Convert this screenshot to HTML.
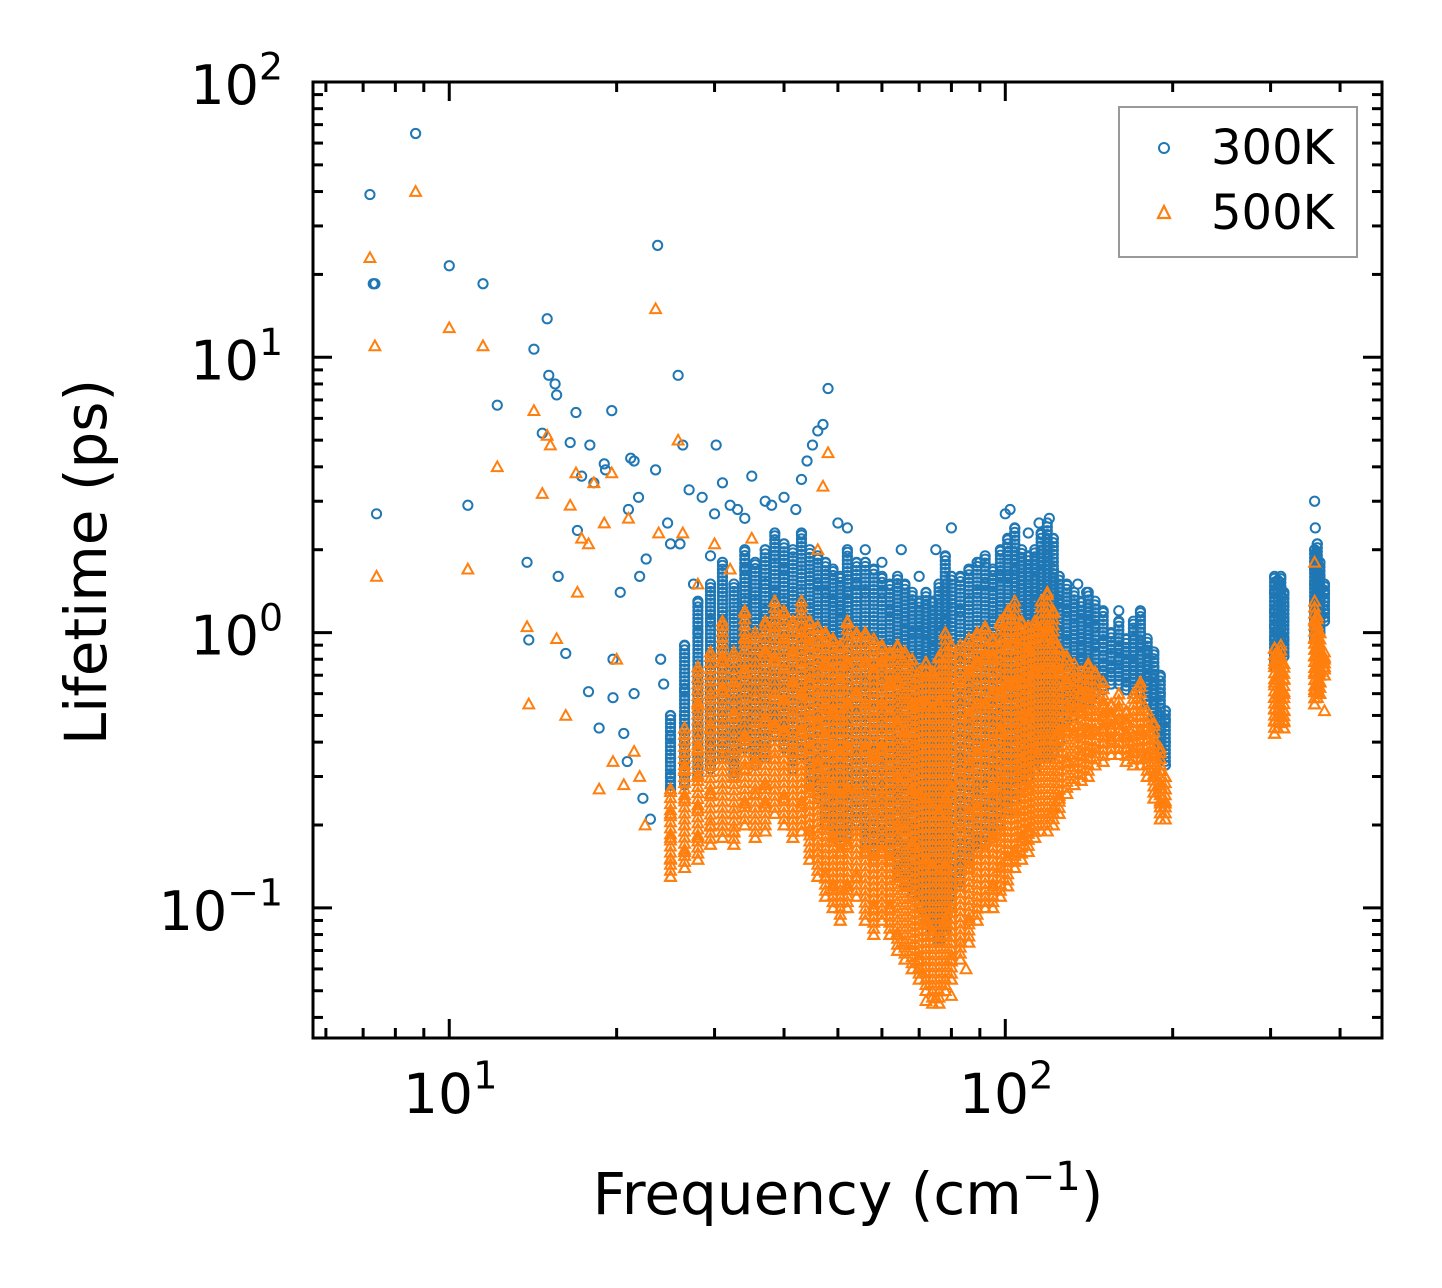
<!DOCTYPE html>
<html><head><meta charset="utf-8"><style>
html,body{margin:0;padding:0;background:#fff;}
svg{display:block;font-family:"DejaVu Sans","Liberation Sans",sans-serif;}
</style></head><body>
<svg id="chart" width="1442" height="1288" viewBox="0 0 1442 1288" xmlns="http://www.w3.org/2000/svg">
<rect width="1442" height="1288" fill="#fff"/>
<defs><clipPath id="clip"><rect x="313" y="82" width="1069" height="956"/></clipPath></defs>
<g id="marks" clip-path="url(#clip)"></g>
<g id="axes"></g>
</svg>
<script>
// isolated points (frequency cm^-1, lifetime ps)
const iso300 = [[7.2,39],[7.3,18.5],[7.35,18.5],[7.4,2.7],[8.7,65],[10,21.5],[10.8,2.9],[11.5,18.5],[12.2,6.7],[13.8,1.8],[13.9,0.94],[14.2,10.7],[14.7,5.3],[15,13.8],[15.1,8.6],[15.5,8],[15.6,7.3],[15.7,1.6],[16.2,0.84],[16.5,4.9],[16.9,6.3],[17,2.35],[17.3,3.7],[17.8,0.61],[17.9,4.8],[18.2,3.5],[18.6,0.45],[19,4.1],[19.1,3.9],[19.6,6.4],[19.7,0.8],[19.7,0.58],[20.3,1.4],[20.6,0.43],[20.9,0.34],[21,2.8],[21.2,4.3],[21.5,4.2],[21.5,0.6],[21.9,3.1],[22,1.6],[22.3,0.25],[22.6,1.85],[23,0.21],[23.5,3.9],[23.7,25.5],[24,0.8],[24.3,0.65],[24.7,2.5],[25,2.1],[25.8,8.6],[26,2.1],[26.3,4.8],[27,3.3],[27.5,1.5],[28.5,3.1],[29.5,1.9],[30,2.7],[30.2,4.8],[31,3.5],[32,2.9],[33,2.8],[34,2.6],[35,3.7],[37,3],[38,2.9],[40,3.1],[42,2.8],[43,3.6],[44,4.2],[45,4.8],[46,5.4],[47,5.7],[48,7.7],[50,2.5],[52,2.4],[56,2],[60,1.8],[65,2],[70,1.6],[75,2],[80,2.4],[90,1.8],[100,2.7],[102,2.8],[110,2.3],[115,2.5],[120,2.6],[135,1.5],[140,1.4],[160,1.2],[360,3.0],[361,2.4]];
const iso500 = [[7.2,23],[7.35,11],[7.4,1.6],[8.7,40],[10,12.8],[10.8,1.7],[11.5,11],[12.2,4],[13.8,1.05],[13.9,0.55],[14.2,6.4],[14.7,3.2],[15,5.2],[15.2,4.8],[15.6,0.95],[16.2,0.5],[16.5,2.9],[16.9,3.8],[17,1.4],[17.3,2.2],[17.8,2.1],[18.2,3.5],[18.6,0.27],[19,2.5],[19.6,3.8],[19.7,0.34],[20,0.8],[20.6,0.28],[21,2.6],[21.5,0.37],[22,0.3],[22.5,0.2],[23.5,15],[23.8,2.3],[25.8,5],[26.3,2.3],[28,1.5],[30,2.1],[32,1.7],[35,2.2],[46,2],[48,4.5],[47,3.4],[70,0.06],[75,0.047],[80,0.048],[85,0.06],[72,0.046],[360,1.8],[375,0.52]];
// dense clouds: [frequency, [lifetimes]] — cloud spans min..max of each bin
const cloud300 = [[25,[0.3,0.35,0.42,0.5,0.27]],[26.5,[0.33,0.4,0.5,0.62,0.9,0.28]],[28,[0.35,0.45,0.55,0.7,1.0,1.3,0.3]],[29.5,[0.38,0.5,0.6,0.8,1.1,1.5,0.32]],[31,[0.4,0.5,0.65,0.85,1.1,1.4,0.35,1.8]],[32.5,[0.42,0.55,0.7,0.9,1.2,1.5,0.36,0.3]],[34,[0.45,0.6,0.75,1.0,1.3,1.7,0.38,2.0]],[35.5,[0.5,0.62,0.8,1.05,1.4,1.8,0.4,0.33]],[37,[0.55,0.7,0.9,1.2,1.5,2.0,0.45,0.35]],[38.5,[0.5,0.65,0.85,1.1,1.4,1.9,0.42,2.3]],[40,[0.45,0.6,0.8,1.0,1.3,1.7,2.1,0.38]],[41.5,[0.5,0.7,0.9,1.2,1.5,2.0,0.4,0.32]],[43,[0.45,0.6,0.8,1.1,1.4,1.8,2.3,0.36]],[44.5,[0.35,0.5,0.7,0.9,1.2,1.6,0.28,2.0]],[46,[0.3,0.45,0.6,0.85,1.1,1.5,0.25,1.9]],[47.5,[0.25,0.38,0.55,0.75,1.0,1.4,0.2,1.8]],[49,[0.22,0.33,0.5,0.7,0.95,1.3,0.18,1.7]],[50.5,[0.2,0.3,0.45,0.65,0.9,1.2,0.17,1.6]],[52,[0.22,0.32,0.5,0.7,1.0,1.4,0.18,2.0]],[54,[0.25,0.35,0.5,0.75,1.1,1.5,0.2,1.8]],[56,[0.2,0.3,0.45,0.7,1.0,1.4,0.16,1.8]],[58,[0.18,0.28,0.42,0.65,0.95,1.3,0.15,1.7]],[60,[0.2,0.3,0.45,0.7,1.0,1.4,0.17,1.6]],[62,[0.18,0.28,0.4,0.6,0.9,1.2,0.15,1.5]],[64,[0.15,0.25,0.38,0.55,0.85,1.2,0.13,1.6]],[66,[0.14,0.22,0.35,0.55,0.8,1.1,0.12,1.5]],[68,[0.13,0.2,0.32,0.5,0.75,1.0,0.11,1.4]],[70,[0.12,0.18,0.3,0.48,0.7,1.0,0.1,1.3]],[72,[0.1,0.17,0.28,0.45,0.7,1.0,0.09,1.4]],[74,[0.09,0.15,0.25,0.42,0.65,0.95,0.08,1.3]],[76,[0.09,0.14,0.24,0.4,0.65,1.0,0.075,1.5]],[78,[0.1,0.16,0.26,0.45,0.7,1.1,0.08,1.9]],[80,[0.12,0.18,0.3,0.5,0.8,1.2,0.1,1.6]],[83,[0.14,0.22,0.35,0.55,0.85,1.2,0.12,1.6]],[86,[0.16,0.25,0.4,0.6,0.9,1.3,0.14,1.7]],[89,[0.18,0.28,0.42,0.65,1.0,1.4,0.16,1.8]],[92,[0.2,0.3,0.45,0.7,1.0,1.5,0.17,1.9]],[95,[0.22,0.33,0.5,0.75,1.1,1.5,0.18,1.7]],[98,[0.25,0.35,0.55,0.8,1.1,1.6,0.2,2.0]],[101,[0.28,0.4,0.6,0.85,1.2,1.6,0.22,2.2]],[104,[0.3,0.42,0.6,0.85,1.2,1.7,0.25,2.4]],[107,[0.32,0.45,0.62,0.9,1.2,1.6,0.28,2.0]],[110,[0.35,0.5,0.65,0.9,1.2,1.6,0.3,1.9]],[113,[0.38,0.5,0.7,0.95,1.3,1.7,0.32,2.0]],[116,[0.4,0.55,0.75,1.0,1.3,1.8,0.35,2.3]],[119,[0.4,0.55,0.75,1.0,1.4,1.9,0.35,2.5]],[122,[0.42,0.55,0.75,1.0,1.3,1.7,0.36,2.2]],[125,[0.45,0.6,0.8,1.0,1.3,1.6,0.4]],[129,[0.48,0.62,0.8,1.0,1.2,1.5]],[133,[0.5,0.62,0.78,0.95,1.15,1.4]],[137,[0.52,0.65,0.8,0.95,1.1,1.3]],[141,[0.55,0.68,0.8,0.95,1.1,1.4]],[145,[0.6,0.7,0.8,0.9,1.05,1.3]],[150,[0.62,0.72,0.82,0.92,1.0,1.2]],[155,[0.65,0.75,0.82,0.9,1.0]],[160,[0.65,0.72,0.8,0.88,0.95,1.1]],[165,[0.62,0.7,0.78,0.85,0.95]],[170,[0.6,0.68,0.76,0.85,0.95,1.1]],[175,[0.6,0.7,0.8,0.9,1.0,1.2]],[180,[0.55,0.65,0.75,0.85,0.95]],[185,[0.45,0.55,0.65,0.75,0.85]],[190,[0.35,0.42,0.5,0.6,0.7]],[194,[0.33,0.4,0.48,0.52]],[305,[0.75,0.85,0.95,1.05,1.2,1.4,1.6]],[309,[0.8,0.9,1.0,1.1,1.25,1.4,1.55]],[313,[0.85,0.95,1.05,1.15,1.3,1.45,1.6]],[317,[0.82,0.95,1.1,1.25,1.4]],[360,[0.95,1.1,1.3,1.5,1.7,2.0]],[364,[1.0,1.2,1.4,1.6,1.8,2.1]],[368,[1.0,1.15,1.3,1.45,1.6,1.8]],[375,[1.1,1.2,1.3,1.4,1.5]]];
const cloud500 = [[25,[0.15,0.18,0.22,0.27,0.13]],[26.5,[0.16,0.2,0.25,0.32,0.45,0.14]],[28,[0.18,0.23,0.3,0.38,0.55,0.75,0.15]],[29.5,[0.2,0.26,0.33,0.45,0.6,0.85,0.17]],[31,[0.2,0.27,0.35,0.47,0.62,0.8,0.18,1.1]],[32.5,[0.22,0.3,0.38,0.5,0.66,0.85,0.19,0.17]],[34,[0.24,0.32,0.42,0.55,0.72,0.95,0.2,1.2]],[35.5,[0.26,0.34,0.45,0.58,0.78,1.0,0.21,0.18]],[37,[0.28,0.37,0.48,0.64,0.85,1.1,0.24,0.19]],[38.5,[0.27,0.35,0.46,0.6,0.8,1.05,0.22,1.3]],[40,[0.25,0.33,0.44,0.57,0.74,0.95,1.2,0.2]],[41.5,[0.27,0.37,0.5,0.66,0.85,1.1,0.22,0.18]],[43,[0.24,0.33,0.44,0.6,0.78,1.0,1.3,0.19]],[44.5,[0.19,0.27,0.38,0.5,0.66,0.9,0.15,1.1]],[46,[0.16,0.24,0.33,0.47,0.62,0.85,0.13,1.05]],[47.5,[0.13,0.2,0.3,0.42,0.55,0.78,0.11,1.0]],[49,[0.12,0.18,0.27,0.38,0.52,0.72,0.1,0.95]],[50.5,[0.11,0.16,0.25,0.36,0.5,0.66,0.09,0.9]],[52,[0.12,0.17,0.27,0.38,0.55,0.78,0.1,1.1]],[54,[0.13,0.19,0.27,0.41,0.6,0.83,0.11,1.0]],[56,[0.11,0.16,0.25,0.38,0.55,0.78,0.09,1.0]],[58,[0.1,0.15,0.23,0.36,0.52,0.72,0.08,0.95]],[60,[0.11,0.16,0.25,0.38,0.55,0.78,0.09,0.9]],[62,[0.1,0.15,0.22,0.33,0.5,0.66,0.08,0.85]],[64,[0.08,0.13,0.2,0.3,0.47,0.66,0.07,0.9]],[66,[0.075,0.12,0.19,0.3,0.44,0.6,0.065,0.85]],[68,[0.07,0.11,0.17,0.27,0.41,0.55,0.06,0.8]],[70,[0.065,0.1,0.16,0.26,0.38,0.55,0.055,0.72]],[72,[0.055,0.09,0.15,0.25,0.38,0.55,0.05,0.78]],[74,[0.05,0.08,0.14,0.23,0.36,0.52,0.045,0.72]],[76,[0.05,0.075,0.13,0.22,0.36,0.55,0.045,0.82]],[78,[0.055,0.09,0.14,0.25,0.38,0.6,0.05,1.0]],[80,[0.065,0.1,0.16,0.27,0.44,0.66,0.055,0.9]],[83,[0.075,0.12,0.19,0.3,0.47,0.66,0.065,0.9]],[86,[0.09,0.14,0.22,0.33,0.5,0.72,0.075,0.95]],[89,[0.1,0.15,0.23,0.36,0.55,0.78,0.09,1.0]],[92,[0.11,0.16,0.25,0.38,0.55,0.82,0.1,1.05]],[95,[0.12,0.18,0.27,0.41,0.6,0.82,0.1,0.95]],[98,[0.14,0.19,0.3,0.44,0.6,0.88,0.11,1.1]],[101,[0.15,0.22,0.33,0.47,0.66,0.88,0.12,1.2]],[104,[0.16,0.23,0.33,0.47,0.66,0.95,0.14,1.3]],[107,[0.18,0.25,0.34,0.5,0.66,0.88,0.15,1.1]],[110,[0.19,0.27,0.36,0.5,0.66,0.88,0.16,1.05]],[113,[0.21,0.27,0.38,0.52,0.72,0.95,0.18,1.1]],[116,[0.22,0.3,0.41,0.55,0.72,1.0,0.19,1.3]],[119,[0.22,0.3,0.41,0.55,0.78,1.05,0.19,1.4]],[122,[0.23,0.3,0.41,0.55,0.72,0.95,0.2,1.2]],[125,[0.25,0.33,0.44,0.55,0.72,0.88,0.22]],[129,[0.26,0.34,0.44,0.55,0.66,0.82]],[133,[0.28,0.34,0.43,0.52,0.63,0.77]],[137,[0.29,0.36,0.44,0.52,0.6,0.72]],[141,[0.3,0.37,0.44,0.52,0.6,0.77]],[145,[0.33,0.38,0.44,0.5,0.58,0.72]],[150,[0.34,0.4,0.45,0.5,0.55,0.66]],[155,[0.36,0.41,0.45,0.5,0.55]],[160,[0.36,0.4,0.44,0.48,0.52,0.6]],[165,[0.34,0.38,0.43,0.47,0.52]],[170,[0.33,0.37,0.42,0.47,0.52,0.6]],[175,[0.33,0.38,0.44,0.5,0.55,0.66]],[180,[0.3,0.36,0.41,0.47,0.52]],[185,[0.25,0.3,0.36,0.41,0.47]],[190,[0.21,0.24,0.28,0.33,0.38]],[194,[0.21,0.24,0.27,0.3]],[305,[0.43,0.48,0.53,0.58,0.66,0.77,0.88]],[309,[0.45,0.5,0.55,0.6,0.7,0.77,0.85]],[313,[0.47,0.52,0.58,0.63,0.72,0.8,0.9]],[317,[0.45,0.52,0.6,0.68,0.77,0.48]],[360,[0.55,0.62,0.72,0.82,0.95,1.1,1.3]],[364,[0.58,0.66,0.77,0.88,1.0,1.15]],[368,[0.6,0.66,0.72,0.8,0.9,1.0]],[375,[0.7,0.75,0.8,0.85]]];
const xTickExps = [1, 2];
const yTickExps = [-1, 0, 1, 2];

const NS = "http://www.w3.org/2000/svg";
const L = 313, R = 1382, T = 82, B = 1038;
const xMinLog = 1 - 136/555, xMaxLog = 2 + 376/555;
const yMinLog = -1 - 130/275, yMaxLog = 2;
function xs(v){ return L + (Math.log10(v) - xMinLog) / (xMaxLog - xMinLog) * (R - L); }
function ys(v){ return B - (Math.log10(v) - yMinLog) / (yMaxLog - yMinLog) * (B - T); }
function mk(tag, attrs, parent){ const e = document.createElementNS(NS, tag); for (const k in attrs) e.setAttribute(k, attrs[k]); parent.appendChild(e); return e; }
const marks = document.getElementById('marks');
const axes = document.getElementById('axes');
const C1 = "#1f77b4", C2 = "#ff7f0e";
function circle(x, y, parent){
  const e = mk('circle', {cx: x, cy: y, r: 4.6, fill: 'none', stroke: C1, 'stroke-width': 2}, parent);
  
  
}
function tri(x, y, parent){
  const s = 5.4;
  const e = mk('polygon', {points: `${x},${y-s} ${x-s},${y+s*0.8} ${x+s},${y+s*0.8}`, fill: 'none', stroke: C2, 'stroke-width': 2}, parent);
  
  
}
function drawCloud(cloud, fn, g, step){
  cloud.forEach(b => {
    const lo = Math.log10(Math.min(...b[1])), hi = Math.log10(Math.max(...b[1]));
    const x = xs(b[0]);
    for (let l = lo; l <= hi + 1e-9; l += step) fn(x, ys(Math.pow(10, l)), g);
    b[1].forEach(v => fn(x, ys(v), g));
  });
}
const g1 = mk('g', {}, marks);


iso300.forEach(p => circle(xs(p[0]), ys(p[1]), g1));
drawCloud(cloud300, circle, g1, 0.014);
const g2 = mk('g', {}, marks);


iso500.forEach(p => tri(xs(p[0]), ys(p[1]), g2));
drawCloud(cloud500, tri, g2, 0.022);

const fr = mk('rect', {x: L, y: T, width: R-L, height: B-T, fill: 'none', stroke: '#000', 'stroke-width': 3}, axes);


function line(x1, y1, x2, y2, w){ mk('line', {x1, y1, x2, y2, stroke: '#000', 'stroke-width': w}, axes); }
for (let e = 0; e <= 2; e++) for (let m = 1; m <= 9; m++){
  const v = m * Math.pow(10, e); const x = xs(v);
  if (x < L || x > R) continue;
  const len = m === 1 ? 19 : 10;
  line(x, B, x, B-len, 3); line(x, T, x, T+len, 3);
}
for (let e = -2; e <= 2; e++) for (let m = 1; m <= 9; m++){
  const v = m * Math.pow(10, e); const y = ys(v);
  if (y < T-0.5 || y > B) continue;
  const len = m === 1 ? 19 : 10;
  line(L, y, L+len, y, 3); line(R, y, R-len, y, 3);
}
function powLabel(x, y, exp, anchor, name, fs){
  const t = mk('text', {x, y, 'font-size': fs, 'text-anchor': anchor, fill: '#000'}, axes);
  
  
  t.appendChild(document.createTextNode('10'));
  const s = mk('tspan', {dy: -fs*0.45, 'font-size': fs*0.7}, t);
  s.textContent = exp < 0 ? '\u2212' + (-exp) : String(exp);
}
xTickExps.forEach(e => powLabel(xs(Math.pow(10, e)) + 1, 1113, e, 'middle', 'x-tick-label', 55));
yTickExps.forEach(e => powLabel(283, ys(Math.pow(10, e)) + 22, e, 'end', 'y-tick-label', 54));

const svg = document.getElementById('chart');
function add(tag, attrs, txt){ const e = document.createElementNS(NS, tag); for (const k in attrs) e.setAttribute(k, attrs[k]); if (txt) e.textContent = txt; svg.appendChild(e); return e; }
const xl = add('text', {x: 848, y: 1214, 'font-size': 58, 'text-anchor': 'middle'});


xl.appendChild(document.createTextNode('Frequency (cm'));
const sup = document.createElementNS(NS, 'tspan');
sup.setAttribute('dy', -24); sup.setAttribute('font-size', 40); sup.textContent = '\u22121';
xl.appendChild(sup);
const cl = document.createElementNS(NS, 'tspan');
cl.setAttribute('dy', 24); cl.textContent = ')';
xl.appendChild(cl);
const yl = add('text', {x: 0, y: 0, 'font-size': 58, 'text-anchor': 'middle', transform: 'translate(106,562) rotate(-90)'}, 'Lifetime (ps)');


const lg = add('rect', {x: 1119, y: 107, width: 238, height: 150, fill: '#fff', stroke: '#999', 'stroke-width': 2});


const lc = add('circle', {cx: 1164, cy: 148, r: 5, fill: 'none', stroke: '#1f77b4', 'stroke-width': 2});


const lt = add('polygon', {points: '1164,206 1158,218 1170,218', fill: 'none', stroke: '#ff7f0e', 'stroke-width': 2.2});


const t1 = add('text', {x: 1211, y: 164, 'font-size': 48}, '300K');


const t2 = add('text', {x: 1211, y: 229, 'font-size': 48}, '500K');


</script>
</body></html>
